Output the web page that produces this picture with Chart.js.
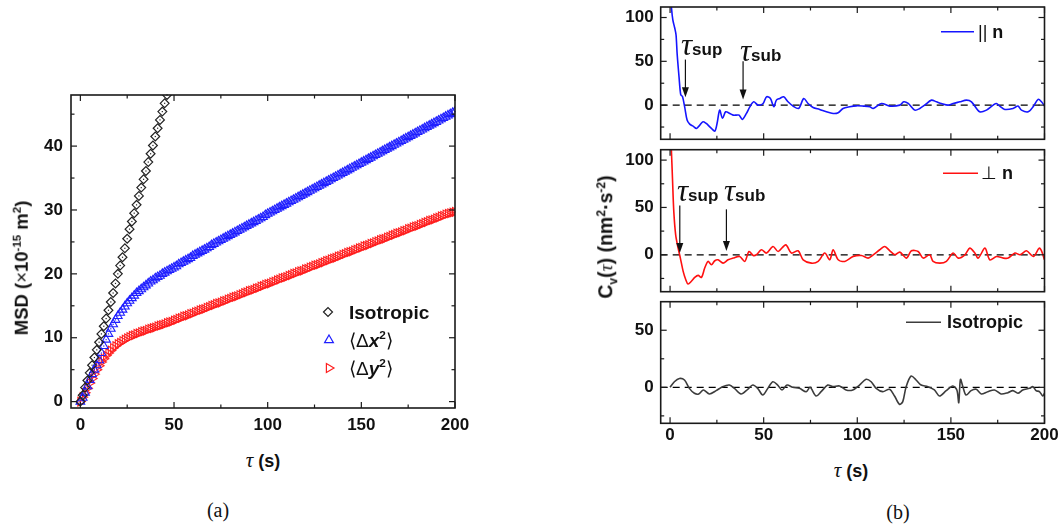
<!DOCTYPE html>
<html>
<head>
<meta charset="utf-8">
<title>MSD and velocity autocorrelation</title>
<script src="https://cdn.jsdelivr.net/npm/chart.js@4.4.1/dist/chart.umd.min.js"></script>
<style>
    body { margin: 0; background: #fff; }
    #fig { position: relative; width: 1063px; height: 527px; overflow: hidden; background: #fff;
        font-family: "Liberation Sans", Arial, sans-serif; color: #111; }
    #fig canvas { position: absolute; }
    .txt { position: absolute; white-space: nowrap; line-height: 1; }
    .mid { transform: translate(-50%, -50%); }
    .vmid { transform: translateY(-50%); }
    .rot { transform: translate(-50%, -50%) rotate(-90deg); }
    .serif { font-family: "Liberation Serif", "DejaVu Serif", serif; }
    .b { font-weight: bold; }
    sup, sub { font-size: 0.62em; line-height: 0; }
    .ann { position: absolute; white-space: nowrap; font: italic 31px/28px "Liberation Serif", serif; }
    .ann b { font: bold 17px "Liberation Sans", Arial, sans-serif; }
</style>
</head>
<body>
<div id="fig">
    <canvas id="msd" width="470" height="360" style="left:0;top:80px"></canvas>
    <canvas id="cvPar" width="463" height="145" style="left:600px;top:0"></canvas>
    <canvas id="cvPerp" width="463" height="150" style="left:600px;top:145px"></canvas>
    <canvas id="cvIso" width="463" height="160" style="left:600px;top:295px"></canvas>

    <!-- panel (a) texts -->
    <div class="txt rot b" style="left:22px;top:268px;font-size:18.5px">MSD (<span style="font-weight:normal">×</span>10<sup>-15</sup> m<sup>2</sup>)</div>
    <div class="txt mid" style="left:263px;top:460px;font-size:18px"><i class="serif" style="font-size:21px">τ</i> <b>(s)</b></div>
    <div class="txt mid serif" style="left:218px;top:510px;font-size:20px">(a)</div>
    <div class="txt vmid b" style="left:349px;top:312px;font-size:19px">Isotropic</div>
    <div class="txt vmid" style="left:349px;top:340px;font-size:19px">⟨Δ<b><i>x</i></b><sup class="b">2</sup>⟩</div>
    <div class="txt vmid" style="left:349px;top:368px;font-size:19px">⟨Δ<b><i>y</i></b><sup class="b">2</sup>⟩</div>

    <!-- panel (b) texts -->
    <div class="txt rot b" style="left:606px;top:237px;font-size:19.5px">C<sub>v</sub>(<i class="serif" style="font-weight:normal">τ</i>) (nm<sup>2</sup>·s<sup>-2</sup>)</div>
    <div class="txt mid" style="left:851px;top:470px;font-size:18px"><i class="serif" style="font-size:21px">τ</i> <b>(s)</b></div>
    <div class="txt mid serif" style="left:898px;top:512px;font-size:20px">(b)</div>
    <div class="txt vmid" style="left:978px;top:32px;font-size:18px">|| <b>n</b></div>
    <div class="txt vmid" style="left:981px;top:173px;font-size:18px">⊥ <b>n</b></div>
    <div class="txt vmid b" style="left:947px;top:322px;font-size:18px">Isotropic</div>
    <div class="ann" style="left:681px;top:31px">τ<b>sup</b></div>
    <div class="ann" style="left:740px;top:37px">τ<b>sub</b></div>
    <div class="ann" style="left:677px;top:177px">τ<b>sup</b></div>
    <div class="ann" style="left:724px;top:177px">τ<b>sub</b></div>
</div>

<script>
'use strict';

// (a) MSD, sampled every 1.25 s
var msdTau = [
    0, 1.25, 2.5, 3.75, 5, 6.25, 7.5, 8.75,
    10, 11.25, 12.5, 13.75, 15, 16.25, 17.5, 18.75,
    20, 21.25, 22.5, 23.75, 25, 26.25, 27.5, 28.75,
    30, 31.25, 32.5, 33.75, 35, 36.25, 37.5, 38.75,
    40, 41.25, 42.5, 43.75, 45, 46.25, 47.5, 48.75,
    50, 51.25, 52.5, 53.75, 55, 56.25, 57.5, 58.75,
    60, 61.25, 62.5, 63.75, 65, 66.25, 67.5, 68.75,
    70, 71.25, 72.5, 73.75, 75, 76.25, 77.5, 78.75,
    80, 81.25, 82.5, 83.75, 85, 86.25, 87.5, 88.75,
    90, 91.25, 92.5, 93.75, 95, 96.25, 97.5, 98.75,
    100, 101.25, 102.5, 103.75, 105, 106.25, 107.5, 108.75,
    110, 111.25, 112.5, 113.75, 115, 116.25, 117.5, 118.75,
    120, 121.25, 122.5, 123.75, 125, 126.25, 127.5, 128.75,
    130, 131.25, 132.5, 133.75, 135, 136.25, 137.5, 138.75,
    140, 141.25, 142.5, 143.75, 145, 146.25, 147.5, 148.75,
    150, 151.25, 152.5, 153.75, 155, 156.25, 157.5, 158.75,
    160, 161.25, 162.5, 163.75, 165, 166.25, 167.5, 168.75,
    170, 171.25, 172.5, 173.75, 175, 176.25, 177.5, 178.75,
    180, 181.25, 182.5, 183.75, 185, 186.25, 187.5, 188.75,
    190, 191.25, 192.5, 193.75, 195, 196.25, 197.5, 198.75,
    200
];
var msdIso = [
    0, 1.0, 2.2, 3.3, 4.5, 5.7, 6.9, 8.1,
    9.3, 10.6, 11.8, 13.0, 14.3, 15.6, 17.0, 18.5,
    20.0, 21.3, 22.6, 24.0, 25.5, 27.0, 28.2, 29.5,
    30.8, 32.2, 33.5, 34.8, 36.1, 37.5, 38.8, 40.1,
    41.5, 42.8, 44.1, 45.4, 46.7, 48.0
];
var msdX = [
    0, 0.6, 1.4, 2.4, 3.4, 4.3, 5.0, 5.7,
    6.5, 7.6, 8.7, 9.7, 10.6, 11.4, 12.1, 12.8,
    13.4, 13.9, 14.4, 14.9, 15.4, 15.8, 16.2, 16.6,
    17.0, 17.3, 17.6, 17.9, 18.2, 18.5, 18.8, 19.0,
    19.3, 19.5, 19.7, 20.0, 20.2, 20.4, 20.6, 20.8,
    21.0, 21.2, 21.5, 21.7, 21.9, 22.1, 22.3, 22.5,
    22.8, 23.0, 23.2, 23.4, 23.6, 23.8, 24.0, 24.2,
    24.5, 24.7, 24.9, 25.1, 25.3, 25.5, 25.7, 25.9,
    26.1, 26.3, 26.5, 26.7, 26.9, 27.1, 27.3, 27.5,
    27.7, 27.9, 28.1, 28.3, 28.5, 28.7, 28.9, 29.2,
    29.4, 29.6, 29.8, 30.0, 30.2, 30.4, 30.6, 30.8,
    31.0, 31.2, 31.4, 31.6, 31.8, 32.0, 32.2, 32.4,
    32.6, 32.8, 33.0, 33.2, 33.4, 33.6, 33.8, 34.0,
    34.2, 34.4, 34.6, 34.8, 35.0, 35.2, 35.4, 35.6,
    35.8, 36.0, 36.2, 36.4, 36.6, 36.8, 37.0, 37.2,
    37.4, 37.6, 37.8, 38.0, 38.2, 38.4, 38.6, 38.8,
    39.0, 39.2, 39.4, 39.6, 39.8, 40.0, 40.2, 40.4,
    40.6, 40.8, 41.0, 41.2, 41.4, 41.6, 41.8, 42.0,
    42.2, 42.4, 42.6, 42.8, 43.0, 43.2, 43.4, 43.6,
    43.8, 44.0, 44.2, 44.4, 44.6, 44.8, 45.0, 45.2,
    45.4
];
var msdY = [
    0, 0.7, 1.4, 2.1, 2.9, 3.6, 4.3, 5.0,
    5.6, 6.2, 6.7, 7.2, 7.6, 8.0, 8.4, 8.7,
    9.0, 9.2, 9.5, 9.7, 9.9, 10.1, 10.3, 10.4,
    10.6, 10.7, 10.9, 11.0, 11.1, 11.3, 11.4, 11.5,
    11.6, 11.8, 11.9, 12.0, 12.1, 12.3, 12.4, 12.5,
    12.7, 12.8, 13.0, 13.1, 13.3, 13.4, 13.5, 13.7,
    13.8, 14.0, 14.1, 14.3, 14.4, 14.5, 14.7, 14.8,
    15.0, 15.1, 15.3, 15.4, 15.5, 15.7, 15.8, 16.0,
    16.1, 16.3, 16.4, 16.5, 16.7, 16.8, 17.0, 17.1,
    17.3, 17.4, 17.5, 17.7, 17.8, 18.0, 18.1, 18.3,
    18.4, 18.5, 18.7, 18.8, 19.0, 19.1, 19.3, 19.4,
    19.5, 19.7, 19.8, 20.0, 20.1, 20.3, 20.4, 20.5,
    20.7, 20.8, 21.0, 21.1, 21.3, 21.4, 21.5, 21.7,
    21.8, 22.0, 22.1, 22.3, 22.4, 22.5, 22.7, 22.8,
    23.0, 23.1, 23.3, 23.4, 23.5, 23.7, 23.8, 24.0,
    24.1, 24.3, 24.4, 24.5, 24.7, 24.8, 25.0, 25.1,
    25.3, 25.4, 25.5, 25.7, 25.8, 26.0, 26.1, 26.3,
    26.4, 26.5, 26.7, 26.8, 27.0, 27.1, 27.3, 27.4,
    27.5, 27.7, 27.8, 28.0, 28.1, 28.3, 28.4, 28.5,
    28.7, 28.8, 29.0, 29.1, 29.3, 29.4, 29.5, 29.6,
    29.7
];

// (b) velocity autocorrelation
var parTau = [0, 0.8, 1.5, 2.5, 3.2, 3.8, 4.8, 5.7, 6.6, 7.8, 9.1, 10.5, 12.3, 14.1, 15.9, 17.6, 19.4, 20.3, 22.1, 23.9,
    25.1, 26.5, 28, 29.7, 31.9, 33.7, 35.4, 36.9, 38.6, 40.8, 42.6, 44.7, 47, 49.7, 51.5, 53.6, 55.4, 56.8, 58.6, 60.7,
    63, 65.7, 68.7, 71.4, 73.7, 76.4, 79.9, 83.5, 87.1, 89.8, 92.4, 96, 99.5, 103.1, 106.7, 108.5, 112.9, 117.4, 122.7, 124.8,
    127.2, 130.7, 133.4, 136, 139.6, 142.3, 144.9, 148.5, 151.2, 154.8, 158.3, 161, 165.4, 169, 172.6, 174.3, 176.1, 178.8, 183.2, 185.9,
    187.7, 191.3, 193.9, 196.6, 198.4, 200];
var parVal = [135, 110, 97, 88, 80, 58, 32, 12, 10, -2, -17, -21.7, -24, -26.6, -22.8, -19, -21, -22.8, -26.6, -29.7,
    -21, -5.7, -15, -7.6, -9.5, -11.4, -11.4, -11.4, -16.3, -9.5, -2, 3.8, 0, 1.9, 9.5, 7.6, -1.9, 5.7, 7.6, 9.5,
    3.8, -1.1, -3.8, 7.6, 1.9, -2.7, -4.9, -7.6, -9.5, -8.7, -3.8, -1.9, -0.8, -1.1, -1.9, -3.8, 1.9, -1.1, 0, 3.8,
    1.9, -5.7, -3.8, 0, 5.7, 3.8, 1.9, 0, 1.9, 3.8, 5.7, 3.8, -7.6, -5.7, 0, 1.9, -1.1, -4.9, -3.8, -1.1,
    -5.7, -7.6, -1.9, 6.5, 3.8, -1];

var perpTau = [0, 0.7, 1.3, 2, 3, 4.3, 5.5, 7, 8.4, 9.6, 11.4, 13.2, 15, 16.8, 18.5, 20.3, 22.1, 23.9, 25.6, 28.3,
    31, 33.7, 37.2, 39.9, 42.2, 44.4, 46.1, 48.8, 51.5, 55, 57.7, 61.8, 64.8, 68.4, 71.1, 75.5, 79.1, 82.6, 85.3, 87.1,
    89.8, 93.3, 97.8, 102.2, 105.8, 108.5, 112, 114.7, 117.4, 120.1, 122.7, 126.3, 128.9, 132.5, 135.2, 138.7, 140.5, 144.1, 147.6, 151.2,
    153.9, 157.5, 160.1, 162.8, 164.6, 168.2, 170.8, 174.4, 178, 180.6, 184.2, 186.9, 190.4, 194, 197.2, 198.4, 200];
var perpVal = [140, 111, 80, 45.6, 21, 7, -3.5, -17.5, -26.3, -30.9, -28, -23.9, -21.8, -23.9, -14, -7, -10.5, -6.3, -5.3, -8.8,
    -5.3, -3.5, -1.8, -7, 3.5, -0.7, 0, 5.3, 1.8, 8.8, 3.5, 10.5, 1.8, 4.2, -5.3, -8.8, -7, 1.8, -5.3, 5.3,
    -5.3, -7, -1.8, -0.7, -3.5, 0, 5.3, 8.8, 4.2, 0, 2.8, -3.5, 4.2, 3.5, -3.5, 0, -7, -8.8, -7, 1.8,
    -3.5, 0, 7, 1.8, -3.5, 7, -5.3, -1.8, -3.5, -3.5, 1.8, 0, 4.2, -1.8, 7, 4.2, -5.3];

var isoTau = [0, 2.3, 5, 7.7, 10.3, 13, 15.3, 17.8, 21, 24.6, 28.1, 31.7, 34.4, 37.9, 41.5, 44.2, 46.8, 49.5, 52.2, 54.9,
    57.5, 59.8, 62.5, 65.5, 69.1, 72.7, 74.8, 78, 80.7, 84.2, 86.9, 90.5, 94, 97.6, 101.2, 104.7, 107.4, 110.1, 113.6, 117.2,
    119.9, 122.5, 124.3, 126.1, 128.8, 131.4, 134.1, 137.7, 141.2, 143.9, 147.5, 151, 153.2, 154.2, 155.1, 156.4, 158.1, 160.8, 163.5, 166.2,
    169.7, 173.3, 176.8, 180.4, 183.1, 185.8, 188.4, 192, 193.8, 195.5, 197.3, 199.1, 200];
var isoVal = [0, 4.9, 7.8, 6.4, -0.9, -5.2, -5.8, -2.3, -5.8, -2.9, 0.6, 2, -0.9, -5.8, -1.7, 2, -0.9, -6.7, -0.9, 4.9,
    2, -2.3, 2, 0, -0.9, -3.8, 0, -7.6, -3.8, 2, 0.6, 1.2, -2.3, -2.3, 2, 7, 4.9, -0.9, -3.8, -1.7,
    -7.6, -14.8, -12.5, 0.6, 9.9, 6.4, 2, 0.6, -2.3, -7.6, -2.9, 1.2, -2.3, -13.4, 7, 0.6, -6.7, -2.9, -1.7, -5.8,
    -3.8, -2.3, -5.8, -4.7, -2.9, -5.2, -2.3, -0.9, 0.6, -2.9, -3.8, -7.6, -5.2];

// ticks
var tauTicks = [0, 50, 100, 150, 200];
var tauMinor = [25, 75, 125, 175];
var msdTicks = [0, 10, 20, 30, 40];
var msdMinor = [5, 15, 25, 35, 45];
var cvTicks = [0, 50, 100];
var cvMinor = [-25, 25, 75];
var isoTicks = [0, 50];
var isoMinor = [-25, 25];

Chart.defaults.font.family = "'Liberation Sans', Arial, sans-serif";
Chart.defaults.color = '#111';

function pts(xs, ys) {
    return ys.map(function (v, i) { return { x: xs[i], y: v }; });
}

function fixTicks(list) {
    return function (s) { s.ticks = list.map(function (v) { return { value: v }; }); };
}

// fixed axis size, and no extra room for overhanging labels
function fixSize(prop, size) {
    return function (s) {
        s[prop] = size;
        s.paddingTop = s.paddingBottom = s.paddingLeft = s.paddingRight = 0;
    };
}

// Origin-style frame with inward ticks, arrows and legend keys
var decor = {
    id: 'decor',
    afterDatasetsDraw: function (chart, args, o) {
        var ctx = chart.ctx, a = chart.chartArea;
        var sx = chart.scales.x, sy = chart.scales.y;
        function seg(x1, y1, x2, y2) {
            ctx.beginPath(); ctx.moveTo(x1, y1); ctx.lineTo(x2, y2); ctx.stroke();
        }
        ctx.save();

        // little dot in the middle of each open marker
        chart.data.datasets.forEach(function (ds, i) {
            if (!ds.centerDot) return;
            ctx.fillStyle = ds.borderColor;
            chart.getDatasetMeta(i).data.forEach(function (el) {
                if (el.y < a.top || el.y > a.bottom) return;
                ctx.fillRect(el.x - 0.6, el.y - 0.6, 1.2, 1.2);
            });
        });

        ctx.strokeStyle = '#1a1a1a';
        ctx.lineWidth = 1.6;
        ctx.strokeRect(a.left, a.top, a.right - a.left, a.bottom - a.top);
        ctx.lineWidth = 1.2;
        [[o.xMajor, 6], [o.xMinor, 3.5]].forEach(function (t) {
            t[0].forEach(function (v) {
                var p = sx.getPixelForValue(v);
                seg(p, a.bottom, p, a.bottom - t[1]);
                seg(p, a.top, p, a.top + t[1]);
            });
        });
        [[o.yMajor, 6], [o.yMinor, 3.5]].forEach(function (t) {
            t[0].forEach(function (v) {
                var p = sy.getPixelForValue(v);
                seg(a.left, p, a.left + t[1], p);
                seg(a.right, p, a.right - t[1], p);
            });
        });

        ctx.fillStyle = '#111';
        ctx.strokeStyle = '#111';
        (o.arrows || []).forEach(function (ar) {
            var x = sx.getPixelForValue(ar.x), y1 = sy.getPixelForValue(ar.from), y2 = sy.getPixelForValue(ar.to);
            ctx.lineWidth = 1.2;
            seg(x, y1, x, y2 - 8);
            ctx.beginPath();
            ctx.moveTo(x, y2); ctx.lineTo(x - 3.5, y2 - 10); ctx.lineTo(x + 3.5, y2 - 10);
            ctx.closePath(); ctx.fill();
        });

        (o.keys || []).forEach(function (k) {
            var ds = chart.data.datasets[k.ds];
            ctx.strokeStyle = ds.borderColor;
            ctx.lineWidth = k.shape === 'line' ? ds.borderWidth : 1.2;
            ctx.beginPath();
            if (k.shape === 'line') {
                ctx.moveTo(k.x, k.y); ctx.lineTo(k.x + k.w, k.y);
            } else if (k.shape === 'diamond') {
                ctx.moveTo(k.x - 4.5, k.y); ctx.lineTo(k.x, k.y - 4.5); ctx.lineTo(k.x + 4.5, k.y); ctx.lineTo(k.x, k.y + 4.5); ctx.closePath();
            } else if (k.shape === 'up') {
                ctx.moveTo(k.x, k.y - 5); ctx.lineTo(k.x + 4.4, k.y + 2.6); ctx.lineTo(k.x - 4.4, k.y + 2.6); ctx.closePath();
            } else {
                ctx.moveTo(k.x + 5, k.y); ctx.lineTo(k.x - 2.6, k.y - 4.4); ctx.lineTo(k.x - 2.6, k.y + 4.4); ctx.closePath();
            }
            ctx.stroke();
        });
        ctx.restore();
    }
};

var tickFont = { size: 17, weight: 'bold' };

// (a)
new Chart(document.getElementById('msd'), {
    type: 'scatter',
    data: {
        datasets: [{
            label: 'Isotropic',
            data: pts(msdTau, msdIso),
            pointStyle: 'rectRot',
            pointRadius: 4.4,
            borderColor: '#222',
            backgroundColor: 'rgba(255,255,255,0)',
            borderWidth: 1.2,
            centerDot: true
        }, {
            label: '<Δx²>',
            data: pts(msdTau, msdX),
            pointStyle: 'triangle',
            pointRadius: 5,
            borderColor: '#1f1fff',
            backgroundColor: 'rgba(255,255,255,0)',
            borderWidth: 1.1,
            centerDot: true
        }, {
            label: '<Δy²>',
            data: pts(msdTau, msdY),
            pointStyle: 'triangle',
            rotation: 90,
            pointRotation: 90,
            pointRadius: 5,
            borderColor: '#ff1f1f',
            backgroundColor: 'rgba(255,255,255,0)',
            borderWidth: 1.1,
            centerDot: true
        }]
    },
    options: {
        responsive: false,
        animation: false,
        events: [],
        layout: { padding: { top: 15, right: 15, left: 0, bottom: 0 } },
        plugins: {
            legend: { display: false },
            tooltip: { enabled: false },
            decor: {
                xMajor: tauTicks, xMinor: tauMinor, yMajor: msdTicks, yMinor: msdMinor,
                keys: [
                    { ds: 0, shape: 'diamond', x: 328, y: 232 },
                    { ds: 1, shape: 'up', x: 329, y: 260 },
                    { ds: 2, shape: 'right', x: 329, y: 288 }
                ]
            }
        },
        scales: {
            x: {
                type: 'linear', min: -5, max: 200,
                afterBuildTicks: fixTicks(tauTicks),
                afterFit: fixSize('height', 32),
                grid: { display: false, drawTicks: false },
                border: { display: false },
                ticks: { font: tickFont, padding: 7, maxRotation: 0 }
            },
            y: {
                min: -1, max: 48,
                afterBuildTicks: fixTicks(msdTicks),
                afterFit: fixSize('width', 71),
                grid: { display: false, drawTicks: false },
                border: { display: false },
                ticks: { font: tickFont, padding: 8 }
            }
        }
    },
    plugins: [decor]
});

// (b)
function cvPanel(id, tau, vals, color, opt) {
    return new Chart(document.getElementById(id), {
        type: 'line',
        data: {
            datasets: [{
                data: pts(tau, vals),
                borderColor: color,
                borderWidth: 1.6,
                pointRadius: 0,
                tension: 0.3,
                fill: false
            }, {
                data: [{ x: -5, y: 0 }, { x: 200, y: 0 }],
                borderColor: '#000',
                borderWidth: 1.3,
                borderDash: [7, 5],
                pointRadius: 0
            }]
        },
        options: {
            responsive: false,
            animation: false,
            events: [],
            layout: { padding: opt.pad },
            plugins: {
                legend: { display: false },
                tooltip: { enabled: false },
                decor: {
                    xMajor: tauTicks, xMinor: tauMinor, yMajor: opt.yTicks, yMinor: opt.yMinor,
                    arrows: opt.arrows || [],
                    keys: [{ ds: 0, shape: 'line', x: opt.key[0], y: opt.key[1], w: opt.key[2] }]
                }
            },
            scales: {
                x: {
                    type: 'linear', min: -5, max: 200,
                    afterBuildTicks: fixTicks(tauTicks),
                    afterFit: fixSize('height', opt.xh),
                    grid: { display: false, drawTicks: false },
                    border: { display: false },
                    ticks: { display: opt.xLabels, font: tickFont, padding: 2, maxRotation: 0 }
                },
                y: {
                    min: opt.yMin, max: opt.yMax,
                    afterBuildTicks: fixTicks(opt.yTicks),
                    afterFit: fixSize('width', 60.7),
                    grid: { display: false, drawTicks: false },
                    border: { display: false },
                    ticks: { font: tickFont, padding: 7 }
                }
            }
        },
        plugins: [decor]
    });
}

cvPanel('cvPar', parTau, parVal, '#1515ff', {
    pad: { top: 7, right: 18.5, left: 0, bottom: 5.7 }, xh: 0, xLabels: false,
    yMin: -39, yMax: 112, yTicks: cvTicks, yMinor: cvMinor,
    arrows: [{ x: 8.2, from: 52, to: 9 }, { x: 39, from: 50, to: 6.5 }],
    key: [341, 31.7, 33]
});
cvPanel('cvPerp', perpTau, perpVal, '#ff1010', {
    pad: { top: 4.7, right: 18.5, left: 0, bottom: 3.3 }, xh: 0, xLabels: false,
    yMin: -39, yMax: 111, yTicks: cvTicks, yMinor: cvMinor,
    arrows: [{ x: 5.2, from: 52, to: 2 }, { x: 30.1, from: 48, to: 4 }],
    key: [343, 28.3, 35]
});
cvPanel('cvIso', isoTau, isoVal, '#3c3c3c', {
    pad: { top: 6.7, right: 18.5, left: 0, bottom: 0 }, xh: 31.7, xLabels: true,
    yMin: -31.5, yMax: 75, yTicks: isoTicks, yMinor: isoMinor,
    key: [306, 27.3, 35]
});
</script>
</body>
</html>
